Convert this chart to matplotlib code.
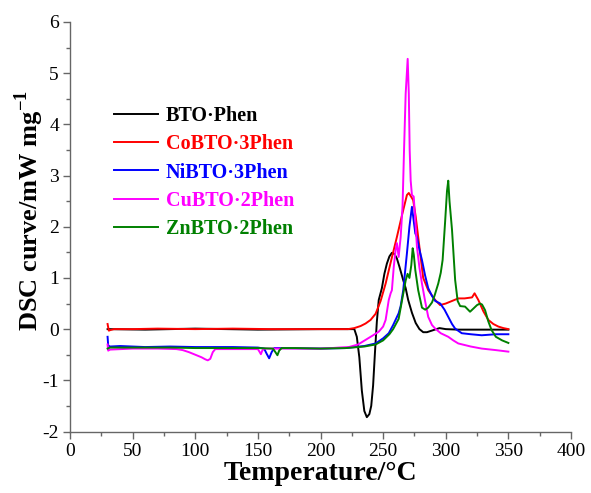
import matplotlib
matplotlib.use("Agg")
import matplotlib.pyplot as plt
import matplotlib.ticker as mticker

# ── Data ──────────────────────────────────────────────────────────────────────
bto_t = [30, 60, 100, 150, 200, 220, 227, 229, 231, 233, 235, 237, 239, 240.5,
         242, 243.5, 245, 246.5, 249, 251, 253, 255, 257, 259, 261, 263, 266,
         268, 270, 273, 276, 279, 282, 285, 290, 295, 300, 310, 320, 335, 350]
bto_v = [0.0, -0.01, 0.01, -0.01, 0.0, 0.0, 0.0, -0.15, -0.55, -1.2, -1.6,
         -1.72, -1.66, -1.5, -1.1, -0.45, 0.15, 0.57, 0.8, 1.08, 1.28, 1.42,
         1.49, 1.47, 1.38, 1.22, 0.96, 0.8, 0.57, 0.32, 0.12, 0.0, -0.06,
         -0.06, -0.02, 0.02, 0.0, -0.01, -0.01, -0.01, -0.01]

co_t = [30, 31, 32, 35, 50, 70, 100, 130, 160, 190, 210, 222, 227, 232, 236,
        240, 244, 248, 252, 256, 261, 265, 269, 270.5, 272, 274, 276, 278, 280,
        282, 286, 291.5, 295.5, 300, 305, 310, 315, 318, 321, 323, 326, 330,
        334, 338, 342, 346, 350]
co_v = [0.1, -0.03, -0.02, 0.0, 0.0, 0.01, 0.0, 0.01, 0.0, 0.0, 0.0, 0.0, 0.02,
        0.06, 0.11, 0.18, 0.3, 0.55, 0.89, 1.3, 1.8, 2.22, 2.62, 2.66, 2.6,
        2.52, 2.2, 1.8, 1.4, 1.0, 0.76, 0.57, 0.47, 0.5, 0.55, 0.6, 0.6, 0.61,
        0.62, 0.70, 0.57, 0.35, 0.18, 0.1, 0.05, 0.02, 0.0]

ni_t = [30, 30.5, 32, 40, 60, 80, 100, 130, 150, 155, 157, 159, 161, 163, 170,
        200, 220, 235, 244, 250, 254.5, 258, 262.4, 264, 266, 269, 271, 273,
        274.5, 275.7, 277, 279, 281, 283.5, 286, 289, 291.6, 295.6, 299, 302,
        305, 307.5, 312.8, 320, 328.7, 340, 350]
ni_v = [-0.15, -0.32, -0.34, -0.33, -0.35, -0.34, -0.35, -0.35, -0.36, -0.38,
        -0.48, -0.57, -0.45, -0.37, -0.37, -0.38, -0.37, -0.33, -0.28, -0.18,
        -0.08, 0.08, 0.31, 0.45, 0.75, 1.48, 2.0, 2.39, 2.1, 1.87, 1.8, 1.55,
        1.35, 1.05, 0.8, 0.65, 0.55, 0.5, 0.38, 0.24, 0.1, 0.01, -0.08, -0.1,
        -0.12, -0.1, -0.1]

cu_t = [30, 30.5, 32, 50, 70, 85, 90, 95, 100, 105, 108, 110, 112, 114, 116,
        130, 150, 151.5, 152.4, 153.5, 155, 180, 200, 209, 215, 222.7, 230, 236,
        242, 246.5, 250, 252, 254.5, 256, 257, 258.5, 260, 261, 262.4, 264,
        265.5, 266.7, 268, 269.6, 270.5, 271.2, 272, 273, 274.4, 275.5, 277,
        279, 281, 283.5, 286, 289, 291.6, 296, 302, 306, 310, 320, 328.7, 340,
        350]
cu_v = [-0.3, -0.42, -0.4, -0.38, -0.38, -0.39, -0.41, -0.45, -0.5, -0.55,
        -0.59, -0.61, -0.58, -0.45, -0.39, -0.39, -0.39, -0.45, -0.49, -0.42,
        -0.38, -0.38, -0.38, -0.37, -0.36, -0.35, -0.3, -0.21, -0.12, -0.05,
        0.05, 0.18, 0.57, 0.7, 0.76, 1.22, 1.55, 1.68, 1.41, 1.8, 2.4, 3.5,
        4.6, 5.28, 4.6, 3.5, 2.9, 2.62, 2.59, 2.2, 1.61, 1.2, 0.89, 0.55, 0.24,
        0.08, 0.01, -0.08, -0.15, -0.22, -0.28, -0.34, -0.38, -0.41, -0.44]

zn_t = [30, 32, 50, 80, 100, 130, 150, 162, 164, 165.6, 167, 169, 180, 200,
        220, 235, 244, 250, 255, 258, 262.4, 265, 268, 269.5, 271, 272.5, 273.6,
        274.5, 275.7, 278, 281, 283.6, 286, 289, 291, 294, 296, 297.5, 299.5,
        301, 302, 303, 305, 307.5, 309.5, 311.5, 315.4, 319.4, 322, 325, 327.4,
        329, 331.4, 334, 336.6, 340, 345, 350]
zn_v = [-0.38, -0.36, -0.36, -0.36, -0.37, -0.37, -0.37, -0.38, -0.45, -0.51,
        -0.42, -0.37, -0.37, -0.38, -0.37, -0.34, -0.3, -0.22, -0.1, 0.0, 0.2,
        0.55, 0.95, 1.08, 1.0, 1.25, 1.58, 1.45, 1.15, 0.76, 0.42, 0.38, 0.42,
        0.52, 0.65, 0.89, 1.1, 1.35, 2.1, 2.7, 2.9, 2.5, 1.94, 0.96, 0.55, 0.45,
        0.44, 0.34, 0.4, 0.47, 0.5, 0.48, 0.37, 0.15, -0.02, -0.15, -0.22, -0.27]

series = [
    ("BTO\u00b7Phen",    bto_t, bto_v, "black"),
    ("CoBTO\u00b73Phen", co_t,  co_v,  "red"),
    ("NiBTO\u00b73Phen", ni_t,  ni_v,  "blue"),
    ("CuBTO\u00b72Phen", cu_t,  cu_v,  "magenta"),
    ("ZnBTO\u00b72Phen", zn_t,  zn_v,  "green"),
]

# ── Plot ──────────────────────────────────────────────────────────────────────
plt.rcParams["font.family"] = ["Liberation Serif", "DejaVu Serif"]
plt.rcParams["mathtext.fontset"] = "custom"
plt.rcParams["mathtext.bf"] = "Liberation Serif:bold"
plt.rcParams["mathtext.rm"] = "Liberation Serif"
plt.rcParams["axes.unicode_minus"] = False

W, H = 591, 493
fig = plt.figure(figsize=(W / 100, H / 100), dpi=100)
ax = fig.add_axes([70 / W, 1 - 431.5 / H, (571 - 70) / W, (431.5 - 22) / H])

for name, t, v, c in series:
    ax.plot(t, v, color=c, linewidth=1.4, label=name)

ax.set_xlim(0, 400)
ax.set_ylim(-2, 6)
ax.xaxis.set_major_locator(mticker.MultipleLocator(50))
ax.xaxis.set_minor_locator(mticker.MultipleLocator(25))
ax.yaxis.set_major_locator(mticker.MultipleLocator(1))
ax.yaxis.set_minor_locator(mticker.MultipleLocator(0.5))

for s in ("top", "right"):
    ax.spines[s].set_visible(False)
for s in ("left", "bottom"):
    ax.spines[s].set_color("#666666")
    ax.spines[s].set_linewidth(1.0)
ax.tick_params(which="major", direction="out", length=5, width=1.0,
               color="#666666", labelsize=14, pad=3)
ax.tick_params(which="minor", direction="out", length=3, width=1.0,
               color="#666666")

ax.set_xlabel("Temperature/\u00b0C", fontsize=20, fontweight="bold", labelpad=1)
ax.set_ylabel(r"DSC curve/mW mg$^{\mathbf{-1}}$", fontsize=19,
              fontweight="bold")
ax.yaxis.set_label_coords(-0.048, 0.54)

leg = ax.legend(loc="upper left", bbox_to_anchor=(114 / W, 1 - 106 / H),
                bbox_transform=fig.transFigure, frameon=False,
                borderpad=0, borderaxespad=0, handlelength=2.2,
                handletextpad=0.38, labelspacing=0.41,
                prop={"weight": "bold", "size": 14.5})
for txt, (_, _, _, c) in zip(leg.get_texts(), series):
    txt.set_color(c)

fig.savefig("out.png", dpi=100)
